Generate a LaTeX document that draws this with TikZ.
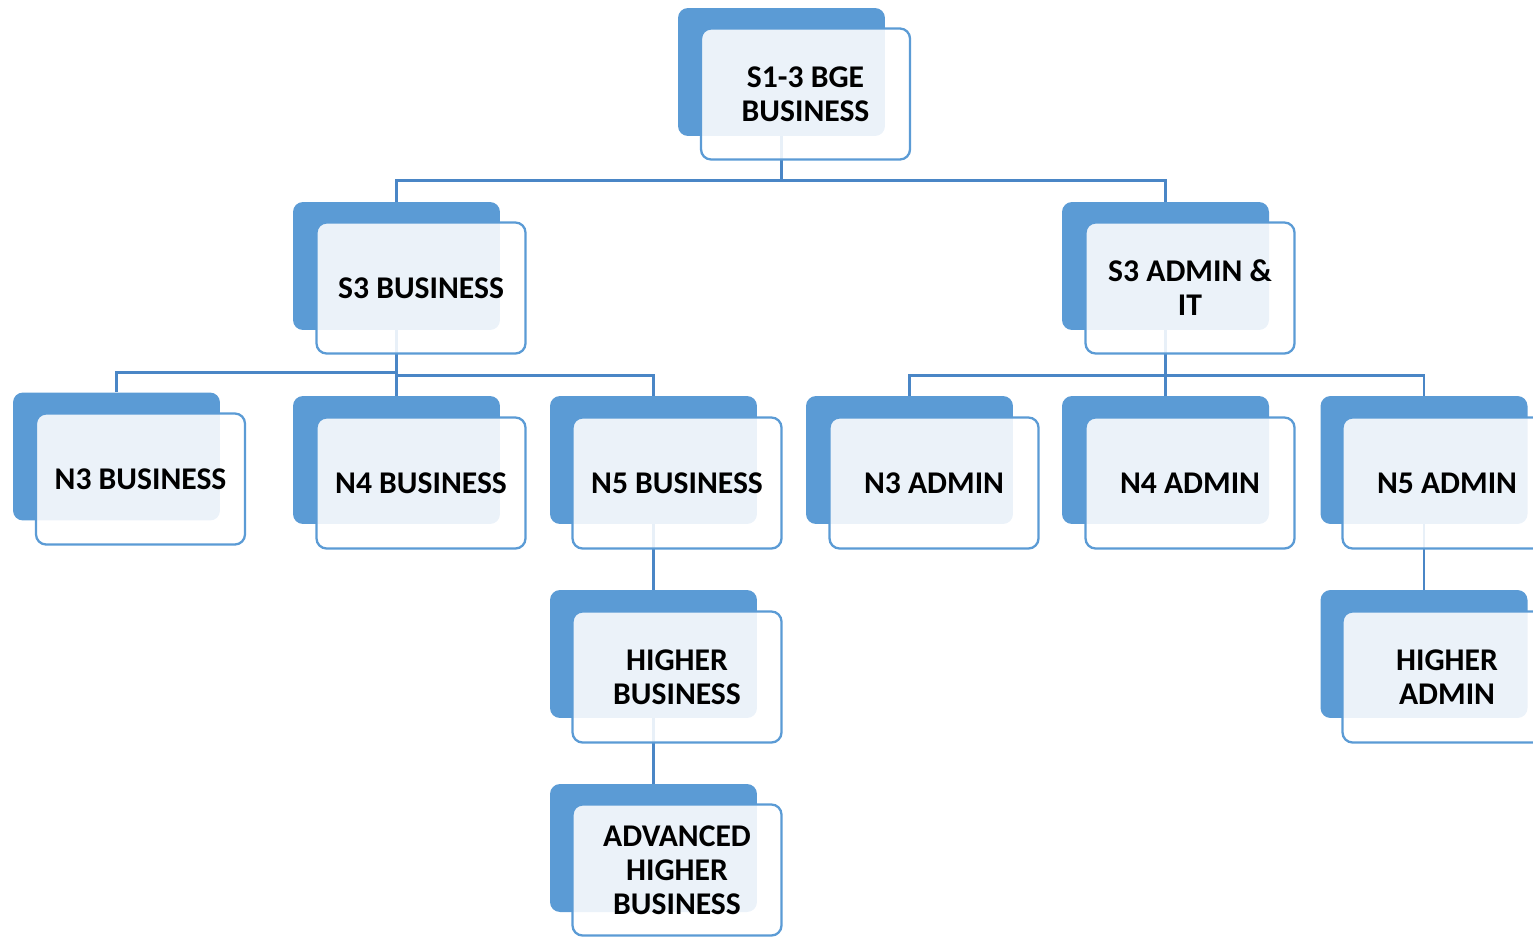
\documentclass[tikz,border=0pt]{standalone}
\usepackage{fontspec}
\setmainfont{Carlito}
\usepackage{tikz}
\definecolor{cardblue}{RGB}{91,155,213}
\definecolor{linkblue}{RGB}{74,134,198}

\begin{document}
\begin{tikzpicture}[x=0.02cm, y=-0.02cm,
  backcard/.style={fill=cardblue, rounded corners=0.2cm, minimum width=4.14cm, minimum height=2.56cm, inner sep=0pt},
  frontcard/.style={draw=cardblue, line width=1.3pt, fill=white, fill opacity=0.88, text opacity=1, rounded corners=0.2cm, minimum width=4.18cm, minimum height=2.62cm, inner sep=0pt, align=center, text=black, font=\bfseries\fontsize{18}{19.3}\selectfont},
  link/.style={draw=linkblue, line width=1.4pt}]
\useasboundingbox (0,0) rectangle (1533,936);
\clip (0,0) rectangle (1533,936);
%back cards
\node[backcard] (bgeback) at (781.5,72) {};
\node[backcard] (s3busback) at (396.5,266) {};
\node[backcard] (s3admback) at (1165.5,266) {};
\node[backcard] (n3busback) at (116.5,456.5) {};
\node[backcard] (n4busback) at (396.5,460) {};
\node[backcard] (n5busback) at (653.5,460) {};
\node[backcard] (n3admback) at (909.5,460) {};
\node[backcard] (n4admback) at (1165.5,460) {};
\node[backcard] (n5admback) at (1424,460) {};
\node[backcard] (hbusback) at (653.5,654) {};
\node[backcard] (hadmback) at (1424,654) {};
\node[backcard] (ahbusback) at (653.5,848) {};
%links
\draw[link] (bgeback.south) -- ++(0,44) -| (s3busback.north);
\draw[link] (bgeback.south) -- ++(0,44) -| (s3admback.north);
\draw[link] (s3busback.south) -- ++(0,42) -| (n3busback.north);
\draw[link] (s3busback.south) -- (n4busback.north);
\draw[link] (s3busback.south) -- ++(0,45) -| (n5busback.north);
\draw[link] (s3admback.south) -- ++(0,45) -| (n3admback.north);
\draw[link] (s3admback.south) -- (n4admback.north);
\draw[link] (s3admback.south) -- ++(0,45) -| (n5admback.north);
\draw[link] (n5busback.south) -- (hbusback.north);
\draw[link] (hbusback.south) -- (ahbusback.north);
\draw[link] (n5admback.south) -- (hadmback.north);
%front cards
\node[frontcard] (bge) at (805.5,94) {S1-3 BGE\\BUSINESS};
\node[frontcard] (s3bus) at (421,288) {S3 BUSINESS};
\node[frontcard] (s3adm) at (1190,288) {S3 ADMIN \&\\IT};
\node[frontcard] (n3bus) at (140.5,479) {N3 BUSINESS};
\node[frontcard] (n4bus) at (421,483) {N4 BUSINESS};
\node[frontcard] (n5bus) at (677,483) {N5 BUSINESS};
\node[frontcard] (n3adm) at (934,483) {N3 ADMIN};
\node[frontcard] (n4adm) at (1190,483) {N4 ADMIN};
\node[frontcard] (n5adm) at (1447,483) {N5 ADMIN};
\node[frontcard] (hbus) at (677,677) {HIGHER\\BUSINESS};
\node[frontcard] (hadm) at (1447,677) {HIGHER\\ADMIN};
\node[frontcard] (ahbus) at (677,870) {ADVANCED\\HIGHER\\BUSINESS};
\end{tikzpicture}
\end{document}
